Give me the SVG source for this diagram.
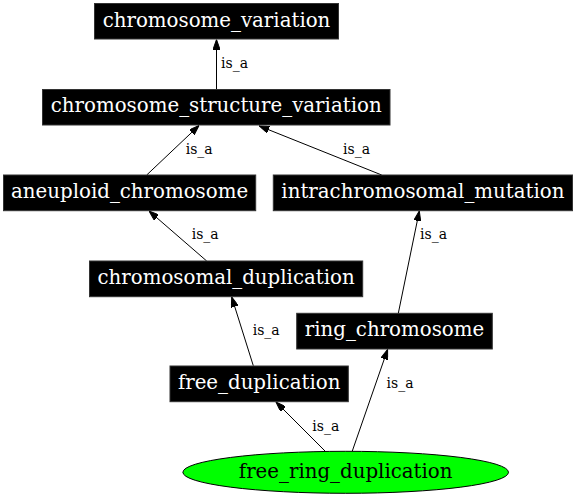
<svg xmlns="http://www.w3.org/2000/svg" width="576" height="497" viewBox="0 0 576 497">
<style>
.box{fill:#000000;stroke:#333333;stroke-width:1}
.nt{font-family:"DejaVu Serif",serif;font-size:19.8px;fill:#ffffff;text-anchor:middle}
.nt2{font-family:"DejaVu Serif",serif;font-size:19.8px;fill:#000000;text-anchor:middle}
.e{fill:none;stroke:#000000;stroke-width:1}
.el{font-family:"DejaVu Serif",serif;font-size:14px;fill:#000000}
</style>
<defs>
<marker id="ah" viewBox="0 0 10 7" refX="10" refY="3.5" markerWidth="10" markerHeight="7" markerUnits="userSpaceOnUse" orient="auto">
<path d="M0,0 L10,3.5 L0,7 z" fill="#000000" stroke="#000000" stroke-width="1"/>
</marker>
</defs>
<rect width="576" height="497" fill="#ffffff"/>
<g id="edges">
<path class="e" marker-end="url(#ah)" d="M216.5,89 L216.5,39.5"/>
<text class="el" x="221" y="68">is_a</text>
<path class="e" marker-end="url(#ah)" d="M146.7,175 L199,125.5"/>
<text class="el" x="185.7" y="154">is_a</text>
<path class="e" marker-end="url(#ah)" d="M381.7,175 L259.3,126"/>
<text class="el" x="343" y="154">is_a</text>
<path class="e" marker-end="url(#ah)" d="M206.7,261 L149,211"/>
<text class="el" x="191.7" y="239">is_a</text>
<path class="e" marker-end="url(#ah)" d="M398.3,313.3 L419.3,211"/>
<text class="el" x="420" y="239">is_a</text>
<path class="e" marker-end="url(#ah)" d="M253.3,365.7 L231.7,297"/>
<text class="el" x="252.7" y="335">is_a</text>
<path class="e" marker-end="url(#ah)" d="M325,451 L276,402"/>
<text class="el" x="312.3" y="431">is_a</text>
<path class="e" marker-end="url(#ah)" d="M352.3,451 L387.6,349.5"/>
<text class="el" x="386.5" y="387.5">is_a</text>
</g>
<g id="chromosome_variation">
<rect class="box" x="94.5" y="3.5" width="244" height="35.5"/>
<text class="nt" x="216.5" y="26.8">chromosome_variation</text>
</g>
<g id="chromosome_structure_variation">
<rect class="box" x="42.5" y="89.5" width="347.5" height="35.5"/>
<text class="nt" x="216.2" y="112.3">chromosome_structure_variation</text>
</g>
<g id="aneuploid_chromosome">
<rect class="box" x="3.5" y="175" width="252.2" height="35.7"/>
<text class="nt" x="129.6" y="198.2">aneuploid_chromosome</text>
</g>
<g id="intrachromosomal_mutation">
<rect class="box" x="273.3" y="175" width="299.2" height="35.7"/>
<text class="nt" x="422.9" y="197.8">intrachromosomal_mutation</text>
</g>
<g id="chromosomal_duplication">
<rect class="box" x="89.5" y="261" width="273.2" height="35.7"/>
<text class="nt" x="226.1" y="283.7">chromosomal_duplication</text>
</g>
<g id="ring_chromosome">
<rect class="box" x="296.7" y="313.3" width="195.6" height="35.7"/>
<text class="nt" x="394.5" y="336.2">ring_chromosome</text>
</g>
<g id="free_duplication">
<rect class="box" x="170" y="366" width="178.3" height="35.7"/>
<text class="nt" x="259.2" y="389.2">free_duplication</text>
</g>
<g id="free_ring_duplication">
<ellipse cx="345.7" cy="472.3" rx="162.8" ry="21" fill="#00ff00" stroke="#000000" stroke-width="1"/>
<text class="nt2" x="345.7" y="478.3">free_ring_duplication</text>
</g>
</svg>
